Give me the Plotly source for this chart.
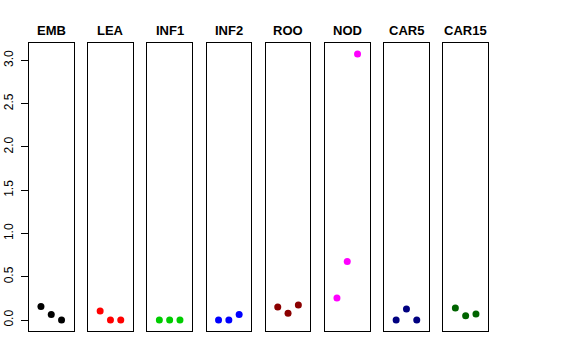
import plotly.graph_objects as go

categories = ["EMB", "LEA", "INF1", "INF2", "ROO", "NOD", "CAR5", "CAR15"]
x_positions = [1, 2, 3]
values = {
    "EMB": [0.157, 0.065, 0.0],
    "LEA": [0.104, 0.0, 0.0],
    "INF1": [0.0, 0.0, 0.0],
    "INF2": [0.0, 0.0, 0.065],
    "ROO": [0.15, 0.08, 0.173],
    "NOD": [0.254, 0.676, 3.075],
    "CAR5": [0.0, 0.127, 0.0],
    "CAR15": [0.138, 0.05, 0.069],
}
colors = ["#000000", "#FF0000", "#00CD00", "#0000FF", "#8B0000", "#FF00FF", "#000080", "#006400"]
ytick_vals = [0.0, 0.5, 1.0, 1.5, 2.0, 2.5, 3.0]

W, H = 576, 360
left0, pitch, pw = 29.0, 59.2, 44.5
top_px, bot_px = 43.3, 330.7
y_dom = [(H - bot_px) / H, (H - top_px) / H]
ymax = max(max(v) for v in values.values())
yrange = [-0.04 * ymax, ymax * 1.04]

fig = go.Figure()
annotations = []
for i, cat in enumerate(categories):
    ax = "" if i == 0 else str(i + 1)
    x0 = left0 + i * pitch
    xd = [x0 / W, (x0 + pw) / W]
    fig.add_trace(go.Scatter(
        x=x_positions, y=values[cat], mode="markers",
        marker=dict(color=colors[i], size=7),
        xaxis="x" + ax, yaxis="y" + ax, showlegend=False,
    ))
    fig.layout["xaxis" + ax] = dict(
        domain=xd, range=[-0.16, 4.16], showgrid=False, zeroline=False,
        showticklabels=False, ticks="", showline=True, mirror=True,
        linecolor="black", linewidth=1, anchor="y" + ax, automargin=False,
    )
    yax = dict(
        domain=y_dom, range=yrange, showgrid=False, zeroline=False,
        showline=True, mirror=True, linecolor="black", linewidth=1,
        anchor="x" + ax, automargin=False,
    )
    if i == 0:
        yax.update(tickvals=ytick_vals, tickformat=".1f", ticks="outside",
                   ticklen=7, tickcolor="black", tickangle=-90,
                   ticklabelstandoff=3,
                   tickfont=dict(size=12, color="black", family="Liberation Sans, Arial, sans-serif"))
    else:
        yax.update(showticklabels=False, ticks="")
    fig.layout["yaxis" + ax] = yax
    annotations.append(dict(
        text="<b>" + cat + "</b>", x=(x0 + pw / 2) / W, y=(H - 30) / H,
        xref="paper", yref="paper", xanchor="center", yanchor="middle",
        showarrow=False, font=dict(size=13, color="black", family="Liberation Sans, Arial, sans-serif"),
    ))

fig.update_layout(
    width=W, height=H, margin=dict(l=0, r=0, t=0, b=0, autoexpand=False),
    paper_bgcolor="white", plot_bgcolor="white", annotations=annotations,
)
fig.write_html("out.html", config={"displayModeBar": False},
               post_script="document.body.style.margin='0px';document.body.style.overflow='hidden';")
